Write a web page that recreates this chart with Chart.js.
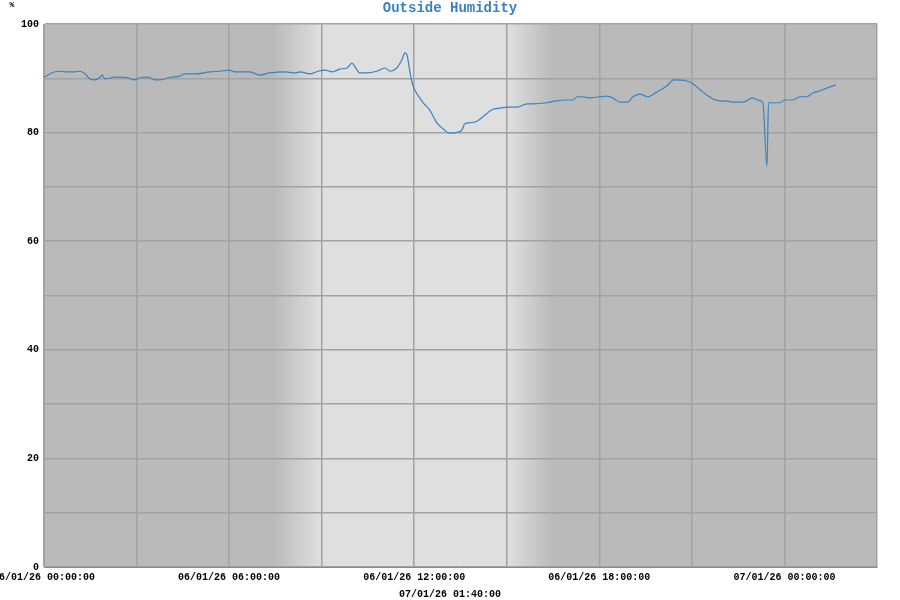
<!DOCTYPE html>
<html>
<head>
<meta charset="utf-8">
<script src="https://cdn.jsdelivr.net/npm/chart.js@4/dist/chart.umd.min.js"></script>
<style>
  html, body { margin: 0; background: #fff; }
</style>
</head>
<body>
<canvas id="grafico" width="900" height="600"></canvas>
<script>
// Dados (minutos desde 06/01/26 00:00:00)
const minutos = [0, 21, 31, 41, 60, 70, 80, 89, 99, 109, 113, 119, 138, 148, 163, 175, 187, 202, 216, 226,
  245, 264, 274, 294, 323, 342, 360, 371, 400, 420, 439, 469, 488, 498, 517, 533, 546, 562, 575, 589,
  599, 605, 614, 628, 647, 663, 673, 686, 696, 702, 706, 712, 717, 727, 741, 750, 764, 776, 789, 805,
  813, 818, 828, 842, 857, 871, 886, 902, 920, 939, 951, 978, 993, 1017, 1028, 1038, 1048, 1061, 1081, 1094,
  1106, 1120, 1135, 1145, 1159, 1174, 1192, 1211, 1225, 1250, 1262, 1281, 1301, 1320, 1330, 1339, 1359, 1378, 1388, 1398,
  1406, 1409, 1417, 1431, 1441, 1456, 1470, 1483, 1495, 1509, 1522, 1540];
const umidade = [90.2, 91.2, 91.3, 91.2, 91.2, 91.3, 90.8, 89.9, 89.7, 90.2, 90.6, 89.9, 90.2, 90.2, 90.1, 89.7, 90.1, 90.2, 89.7, 89.7,
  90.2, 90.4, 90.8, 90.8, 91.2, 91.3, 91.5, 91.2, 91.2, 90.6, 91.0, 91.2, 91.0, 91.2, 90.8, 91.3, 91.5, 91.2, 91.7, 91.9,
  92.8, 92.1, 91.0, 91.0, 91.3, 91.9, 91.3, 91.9, 93.4, 94.7, 94.3, 91.0, 88.8, 86.9, 85.1, 84.2, 81.8, 80.7, 79.9, 80.1,
  80.5, 81.6, 81.8, 82.1, 83.2, 84.2, 84.5, 84.7, 84.7, 85.3, 85.3, 85.5, 85.8, 86.0, 86.0, 86.6, 86.6, 86.4, 86.6, 86.7,
  86.4, 85.6, 85.6, 86.6, 87.1, 86.6, 87.5, 88.6, 89.7, 89.5, 89.0, 87.5, 86.2, 85.8, 85.8, 85.6, 85.6, 86.4, 86.0, 85.5,
  73.8, 85.5, 85.5, 85.5, 86.0, 86.0, 86.6, 86.6, 87.3, 87.7, 88.2, 88.8];

const marcasX = [0, 360, 720, 1080, 1440];
const rotulosX = ['06/01/26 00:00:00', '06/01/26 06:00:00', '06/01/26 12:00:00', '06/01/26 18:00:00', '07/01/26 00:00:00'];
const rotulosY = [0, 20, 40, 60, 80, 100];
const titulo = 'Outside Humidity';
const unidade = '%';
const horaAtual = '07/01/26 01:40:00';

// dia / noite (minutos)
const amanhecer = [445, 540];
const anoitecer = [900, 990];

const corNoite = '#bababa';
const corDia = '#dfdfdf';
const corGrade = '#a2a2a2';
const fonteMono = "'Liberation Mono', 'DejaVu Sans Mono', monospace";

const fundo = {
  id: 'fundo',
  beforeDraw(chart) {
    const { ctx, chartArea: a, scales } = chart;
    const x = scales.x;
    ctx.save();
    ctx.fillStyle = corNoite;
    ctx.fillRect(a.left, a.top, a.right - a.left, a.bottom - a.top);
    const x0 = x.getPixelForValue(amanhecer[0]);
    const x1 = x.getPixelForValue(anoitecer[1]);
    const g = ctx.createLinearGradient(x0, 0, x1, 0);
    const t = (m) => (x.getPixelForValue(m) - x0) / (x1 - x0);
    g.addColorStop(0, corNoite);
    g.addColorStop(t(amanhecer[1]), corDia);
    g.addColorStop(t(anoitecer[0]), corDia);
    g.addColorStop(1, corNoite);
    ctx.fillStyle = g;
    ctx.fillRect(x0, a.top, x1 - x0, a.bottom - a.top);
    ctx.restore();
  }
};

const textos = {
  id: 'textos',
  afterDraw(chart) {
    const ctx = chart.ctx;
    ctx.save();
    ctx.textAlign = 'center';
    ctx.textBaseline = 'middle';
    ctx.fillStyle = '#3a80c2';
    ctx.font = 'bold 14px ' + fonteMono;
    ctx.fillText(titulo, 450, 8);
    ctx.fillStyle = '#000';
    ctx.font = 'bold 10px ' + fonteMono;
    ctx.fillText(horaAtual, 450, 594);
    ctx.font = 'bold 8px ' + fonteMono;
    ctx.fillText(unidade, 12, 5);
    ctx.restore();
  }
};

const ctx = document.getElementById('grafico').getContext('2d');
new Chart(ctx, {
  type: 'line',
  data: {
    datasets: [{
      data: minutos.map((m, i) => ({ x: m, y: umidade[i] })),
      borderColor: '#3a82c4',
      borderWidth: 1.2,
      pointRadius: 0,
      cubicInterpolationMode: 'monotone',
      fill: false
    }]
  },
  options: {
    responsive: false,
    animation: false,
    layout: { padding: { top: 24, right: 23, left: 0, bottom: 0 } },
    plugins: {
      legend: { display: false },
      tooltip: { enabled: false }
    },
    scales: {
      x: {
        type: 'linear',
        min: 0,
        max: 1620,
        afterFit(s) { s.height = 33; s.paddingLeft = 0; s.paddingRight = 0; },
        grid: { color: corGrade, lineWidth: 1.5, drawTicks: false },
        border: { color: '#8a8a8a' },
        ticks: {
          stepSize: 180,
          autoSkip: false,
          maxRotation: 0,
          padding: 4,
          color: '#000',
          font: { family: fonteMono, size: 10, weight: 'bold' },
          callback: (v) => {
            const i = marcasX.indexOf(v);
            return i >= 0 ? rotulosX[i] : '';
          }
        }
      },
      y: {
        min: 0,
        max: 100,
        afterFit(s) { s.width = 44; s.paddingTop = 0; s.paddingBottom = 0; },
        grid: { color: corGrade, lineWidth: 1.5, drawTicks: false },
        border: { color: corGrade },
        ticks: {
          stepSize: 10,
          padding: 5,
          color: '#000',
          font: { family: fonteMono, size: 10, weight: 'bold' },
          callback: (v) => rotulosY.includes(v) ? String(v) : ''
        }
      }
    }
  },
  plugins: [fundo, textos]
});
</script>
</body>
</html>
